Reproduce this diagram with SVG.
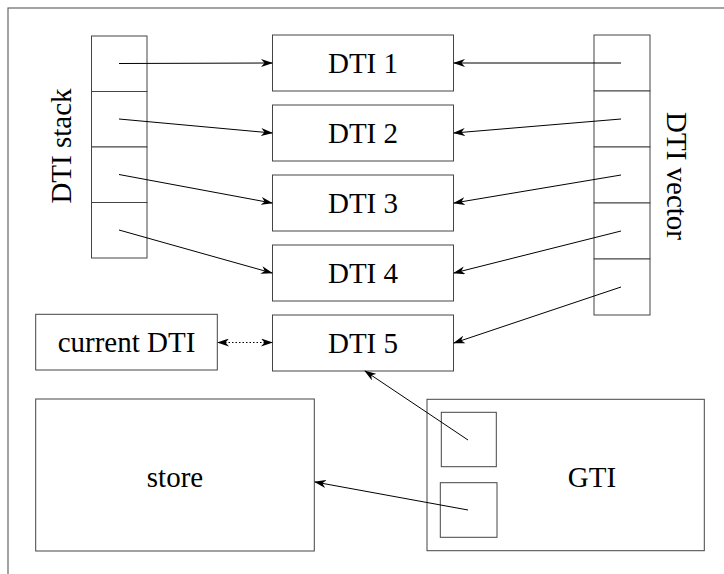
<svg xmlns="http://www.w3.org/2000/svg" width="724" height="574" viewBox="0 0 724 574">
<style>
.box{fill:#fff;stroke:#444;stroke-width:1}
.frame{fill:none;stroke:#666;stroke-width:1.2}
.lbl{font-size:29px;fill:#000;text-anchor:middle}
.arr{stroke:#000;stroke-width:1;fill:none;marker-end:url(#ah)}
.dot{stroke:#000;stroke-width:1;fill:none;stroke-dasharray:1.5 2;marker-end:url(#ah);marker-start:url(#ahs)}
</style>
<defs>
<marker id="ah" markerUnits="userSpaceOnUse" markerWidth="12" markerHeight="8" refX="11" refY="4" orient="auto" viewBox="0 0 12 8">
<path d="M0,0 L12,4 L0,8 L3.5,4 z" fill="#000"/>
</marker>
<marker id="ahs" markerUnits="userSpaceOnUse" markerWidth="12" markerHeight="8" refX="11" refY="4" orient="auto-start-reverse" viewBox="0 0 12 8">
<path d="M0,0 L12,4 L0,8 L3.5,4 z" fill="#000"/>
</marker>
</defs>
<rect class="frame" x="8" y="8" width="800" height="800"/>
<g font-family="Liberation Serif, Times New Roman, Times, DejaVu Serif, serif">
<g id="dti-stack">
<rect class="box" x="91.5" y="36" width="55.5" height="55.5"/>
<rect class="box" x="91.5" y="91.5" width="55.5" height="55.5"/>
<rect class="box" x="91.5" y="147" width="55.5" height="55.5"/>
<rect class="box" x="91.5" y="202.5" width="55.5" height="55.5"/>
<text class="lbl" transform="translate(71,146) rotate(-90)">DTI stack</text>
</g>
<g id="dti-vector">
<rect class="box" x="594" y="35" width="56" height="56"/>
<rect class="box" x="594" y="91" width="56" height="56"/>
<rect class="box" x="594" y="147" width="56" height="56"/>
<rect class="box" x="594" y="203" width="56" height="56"/>
<rect class="box" x="594" y="259" width="56" height="56"/>
<text class="lbl" transform="translate(667,176) rotate(90)">DTI vector</text>
</g>
<g id="dti1"><rect class="box" x="272.5" y="35" width="181" height="56"/><text class="lbl" x="363" y="73">DTI 1</text></g>
<g id="dti2"><rect class="box" x="272.5" y="105" width="181" height="56"/><text class="lbl" x="363" y="143">DTI 2</text></g>
<g id="dti3"><rect class="box" x="272.5" y="175" width="181" height="56"/><text class="lbl" x="363" y="213">DTI 3</text></g>
<g id="dti4"><rect class="box" x="272.5" y="245" width="181" height="56"/><text class="lbl" x="363" y="283">DTI 4</text></g>
<g id="dti5"><rect class="box" x="272.5" y="315" width="181" height="56"/><text class="lbl" x="363" y="353">DTI 5</text></g>
<g id="current-dti"><rect class="box" x="35.7" y="314.3" width="181.6" height="55.7"/><text class="lbl" x="126.5" y="352">current DTI</text></g>
<g id="store"><rect class="box" x="35.7" y="399" width="278.6" height="152"/><text class="lbl" x="175" y="487">store</text></g>
<g id="gti">
<rect class="box" x="427" y="399.3" width="277.3" height="151.4"/>
<rect class="box" x="441.3" y="412.3" width="55" height="54.4"/>
<rect class="box" x="440.3" y="482.7" width="56.7" height="54.6"/>
<text class="lbl" x="592" y="487">GTI</text>
</g>
</g>
<g id="connectors">
<line class="arr" x1="119" y1="63.5" x2="272" y2="63"/>
<line class="arr" x1="119" y1="119" x2="272" y2="133"/>
<line class="arr" x1="119" y1="174.5" x2="272" y2="203"/>
<line class="arr" x1="119" y1="230" x2="272" y2="273"/>
<line class="arr" x1="621" y1="63" x2="454" y2="63"/>
<line class="arr" x1="621" y1="119" x2="454" y2="133"/>
<line class="arr" x1="621" y1="175" x2="454" y2="203"/>
<line class="arr" x1="621" y1="231" x2="454" y2="273"/>
<line class="arr" x1="621" y1="287" x2="454" y2="343"/>
<line class="arr" x1="468" y1="440" x2="365" y2="371"/>
<line class="arr" x1="468" y1="510" x2="315" y2="482"/>
<line class="dot" x1="218" y1="342.5" x2="272" y2="342.5"/>
</g>
</svg>
